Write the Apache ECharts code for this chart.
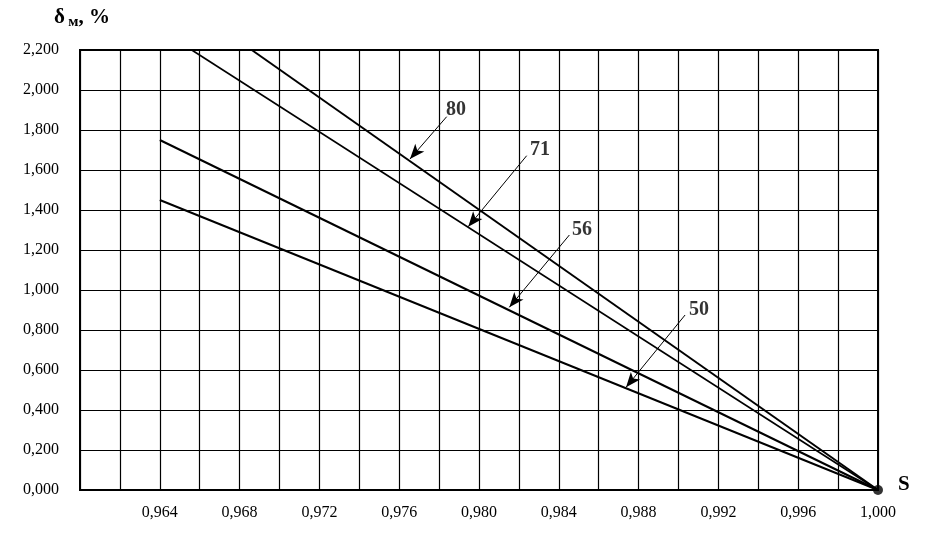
<!DOCTYPE html>
<html><head><meta charset="utf-8">
<script src="https://cdn.jsdelivr.net/npm/echarts@6/dist/echarts.min.js"></script>
<style>html,body{margin:0;padding:0;background:#fff}#c{width:928px;height:539px}</style>
</head><body><div id="c"></div>
<script>
// Series: [S, delta] points for each curve
const seriesNames = ['80', '71', '56', '50'];
const line80 = [[0.96861, 2.2], [1.0, 0]];
const line71 = [[0.96560, 2.2], [1.0, 0]];
const line56 = [[0.964, 1.75], [1.0, 0]];
const line50 = [[0.964, 1.45], [1.0, 0]];
const lineWidths = [2, 1.6, 2, 2];
// annotations: label position, arrow start, arrow tip (data coords)
const annLabels = ['80', '71', '56', '50'];
const annLabelPos = [[0.97885, 1.90], [0.98306, 1.70], [0.98516, 1.30], [0.99103, 0.90]];
const annArrowFrom = [[0.97838, 1.8665], [0.98239, 1.6715], [0.98453, 1.275], [0.99033, 0.875]];
const annArrowTo = [[0.97654, 1.655], [0.97946, 1.3165], [0.98152, 0.9135], [0.98737, 0.5135]];
const originPoint = [[1.0, 0]];

const xMin = 0.960, xMax = 1.0, xStep = 0.002;
const yMin = 0, yMax = 2.2, yStep = 0.2;

const fmt = v => v.toFixed(3).replace('.', ',');
const FONT = '"Liberation Serif", "DejaVu Serif", serif';

const chart = echarts.init(document.getElementById('c'));
const dataLines = [line80, line71, line56, line50];
const series = dataLines.map((d, i) => ({
  type: 'line', name: seriesNames[i], data: d, symbol: 'none',
  lineStyle: { color: '#000', width: lineWidths[i] }, z: 5, animation: false
}));
series.push({
  type: 'line', data: [], markLine: {
    silent: true, animation: false,
    symbol: ['none', 'arrow'], symbolSize: [9, 15],
    lineStyle: { color: '#000', width: 1, type: 'solid' },
    label: { show: false },
    data: annArrowFrom.map((f, i) => [{ coord: f }, { coord: annArrowTo[i] }])
  }
});
series.push({
  type: 'scatter', symbolSize: 0, z: 6, animation: false,
  data: annLabelPos.map((p, i) => ({ value: p, name: annLabels[i] })),
  label: { show: true, position: 'inside', formatter: p => p.name,
    fontFamily: FONT, fontWeight: 'bold', fontSize: 20, color: '#000' }
});
series.push({
  type: 'scatter', data: originPoint, symbol: 'circle', symbolSize: 10,
  itemStyle: { color: '#000' }, z: 7, animation: false
});

chart.setOption({
  animation: false,
  backgroundColor: '#fff',
  grid: { left: 80, right: 50, top: 50, bottom: 49, show: true, borderColor: '#000', borderWidth: 2 },
  xAxis: {
    type: 'value', min: xMin, max: xMax, interval: xStep,
    axisLine: { show: true, lineStyle: { color: '#000', width: 2 } },
    axisTick: { show: false },
    splitLine: { show: true, lineStyle: { color: '#000', width: 1.2 } },
    axisLabel: {
      margin: 15, color: '#000', fontFamily: FONT, fontSize: 16,
      formatter: v => { const k = Math.round(v * 1000); return (k >= 964 && k % 4 === 0) ? fmt(v) : ''; }
    }
  },
  yAxis: {
    type: 'value', min: yMin, max: yMax, interval: yStep,
    axisLine: { show: true, lineStyle: { color: '#000', width: 2 } },
    axisTick: { show: false },
    splitLine: { show: true, lineStyle: { color: '#000', width: 1.2 } },
    axisLabel: { margin: 21, color: '#000', fontFamily: FONT, fontSize: 16, formatter: v => fmt(v), padding: [3, 0, 0, 0] }
  },
  graphic: [
    { type: 'text', left: 54, top: 7, style: {
      text: '{a|δ} {b|м}{a|, %}', rich: {
        a: { fontFamily: FONT, fontWeight: 'bold', fontSize: 21, fill: '#000' },
        b: { fontFamily: FONT, fontWeight: 'bold', fontSize: 15, fill: '#000', padding: [9, 0, 0, 0] }
      } } },
    { type: 'text', left: 898, top: 474, style: { text: 'S', fontFamily: FONT, fontWeight: 'bold', fontSize: 21, fill: '#000' } }
  ],
  series: series
});
</script></body></html>
